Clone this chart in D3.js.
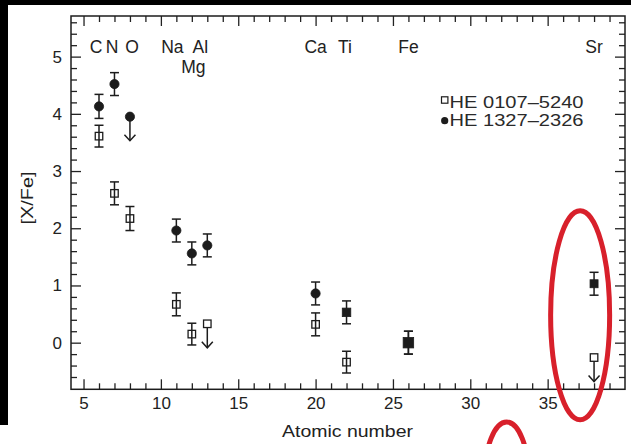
<!DOCTYPE html>
<html>
<head>
<meta charset="utf-8">
<script src="https://cdn.jsdelivr.net/npm/d3@7/dist/d3.min.js"></script>
<style>
  body { margin: 0; background: #fff; }
  svg { display: block; font-family: "Liberation Sans", Arial, Helvetica, sans-serif; }
  .axis text { font-size: 17px; fill: #222; }
  .axis line { stroke: #222; stroke-width: 1.3; }
</style>
</head>
<body>
<div id="chart"><svg></svg></div>
<script>
// elements along the x axis
var elements = ["C", "N", "O", "Na", "Mg", "Al", "Ca", "Ti", "Fe", "Sr"];
var atomicNumbers = [6, 7, 8, 11, 12, 13, 20, 22, 26, 38];
var labelRow = [0, 0, 0, 0, 1, 0, 0, 0, 0, 0];

// HE 0107-5240 (open squares)
var he0107Values = [3.61, 2.61, 2.17, 0.67, 0.15, 0.33, 0.32, -0.34, 0.0, -0.26];
var he0107Errors = [0.19, 0.20, 0.21, 0.20, 0.19, 0, 0.20, 0.19, 0.20, 0];
var he0107Limits = [false, false, false, false, false, true, false, false, false, true];

// HE 1327-2326 (filled symbols)
var he1327Values = [4.13, 4.52, 3.95, 1.96, 1.56, 1.70, 0.86, 0.53, 0.0, 1.03];
var he1327Errors = [0.21, 0.20, 0, 0.20, 0.20, 0.20, 0.20, 0.20, 0.20, 0.20];
var he1327Limits = [false, false, true, false, false, false, false, false, false, false];
var he1327Shapes = ["circle", "circle", "circle", "circle", "circle", "circle", "circle", "square", "square", "square"];

var seriesNames = ["HE 0107\u20135240", "HE 1327\u20132326"];

var xTickLabels = [5, 10, 15, 20, 25, 30, 35];
var yTickLabels = [0, 1, 2, 3, 4, 5];

var visualisation = function(d3) {

    var width = 631;
    var height = 444;
    var ink = "#1c1c1c";

    var x = d3.scaleLinear().domain([4.19, 40.0]).range([71, 625]);
    var y = d3.scaleLinear().domain([-0.815, 5.71]).range([389.3, 16]);

    // small nudges so the element names sit like in the figure
    var labelDx = { C: -3, N: -2.5, O: 2, Na: -4, Mg: 1.5, Al: -7, Ti: -1.5 };
    var markerSize = { Fe: 10.5, Ti: 8.5, Sr: 8 };

    function initMainCanvas() {
        var svg = d3.select("#chart svg");
        svg.attr("width", width)
            .attr("height", height)
            .attr("class", "canvas");
        svg.append("rect").attr("width", width).attr("height", height).attr("fill", "#fff");
        // dark scan border of the original
        svg.append("rect").attr("x", 0).attr("y", 0).attr("width", width).attr("height", 5).attr("fill", "#000");
        svg.append("rect").attr("x", 0).attr("y", 0).attr("width", 8).attr("height", 425).attr("fill", "#000");
        svg.append("g").attr("class", "plot");
    }

    function drawAxes(svg) {
        var x0 = x.range()[0], x1 = x.range()[1];
        var y0 = y.range()[0], y1 = y.range()[1];

        var xMinor = d3.range(5, 40).filter(function(v) { return v % 5 !== 0; });
        var yMinor = d3.range(-3, 29).map(function(k) { return k * 0.2; })
            .filter(function(v) { return Math.abs(v - Math.round(v)) > 0.01; });

        function addAxis(axis, tx, ty) {
            var g = svg.append("g")
                .attr("class", "axis")
                .attr("transform", "translate(" + tx + "," + ty + ")")
                .call(axis);
            g.select(".domain").remove();
            return g;
        }

        var fmt = d3.format("d");

        addAxis(d3.axisBottom(x).tickValues(xTickLabels).tickSize(-10).tickPadding(8).tickFormat(fmt), 0, y0);
        addAxis(d3.axisBottom(x).tickValues(xMinor).tickSize(-6).tickFormat(""), 0, y0);
        addAxis(d3.axisTop(x).tickValues(xTickLabels).tickSize(-10).tickFormat(""), 0, y1);
        addAxis(d3.axisTop(x).tickValues(xMinor).tickSize(-6).tickFormat(""), 0, y1);

        addAxis(d3.axisLeft(y).tickValues(yTickLabels).tickSize(-10).tickPadding(9).tickFormat(fmt), x0, 0);
        addAxis(d3.axisLeft(y).tickValues(yMinor).tickSize(-6).tickFormat(""), x0, 0);
        addAxis(d3.axisRight(y).tickValues(yTickLabels).tickSize(-10).tickFormat(""), x1, 0);
        addAxis(d3.axisRight(y).tickValues(yMinor).tickSize(-6).tickFormat(""), x1, 0);

        svg.append("rect")
            .attr("x", x0).attr("y", y1)
            .attr("width", x1 - x0).attr("height", y0 - y1)
            .attr("fill", "none")
            .attr("stroke", ink)
            .attr("stroke-width", 1.5);

        svg.append("text")
            .attr("x", 347.5).attr("y", 437)
            .attr("text-anchor", "middle")
            .attr("font-size", 17)
            .attr("fill", "#222")
            .attr("textLength", 131)
            .attr("lengthAdjust", "spacingAndGlyphs")
            .text("Atomic number");

        svg.append("text")
            .attr("transform", "translate(33,198) rotate(-90)")
            .attr("text-anchor", "middle")
            .attr("font-size", 16)
            .attr("fill", "#222")
            .attr("textLength", 53)
            .attr("lengthAdjust", "spacingAndGlyphs")
            .text("[X/Fe]");
    }

    function drawElementLabels(svg) {
        svg.selectAll(".element-label")
            .data(elements)
            .enter()
            .append("text")
            .attr("class", "element-label")
            .attr("x", function(d, i) { return x(atomicNumbers[i]) + (labelDx[d] || 0); })
            .attr("y", function(d, i) { return labelRow[i] === 0 ? 53.3 : 73.3; })
            .attr("text-anchor", "middle")
            .attr("font-size", 17.5)
            .attr("fill", "#222")
            .text(function(d) { return d; });
    }

    function drawSeries(svg, values, errors, limits, shapeOf, filled, name) {
        var pts = values.map(function(v, i) {
            return {
                el: elements[i],
                cx: x(atomicNumbers[i]),
                v: v,
                e: errors[i],
                limit: limits[i],
                shape: shapeOf(i)
            };
        });

        var g = svg.append("g").attr("class", name);

        // error bars
        var bars = g.selectAll(".err")
            .data(pts.filter(function(d) { return !d.limit && d.e > 0; }))
            .enter()
            .append("g")
            .attr("class", "err")
            .attr("stroke", ink)
            .attr("stroke-width", 1.5);
        bars.append("line")
            .attr("x1", function(d) { return d.cx; })
            .attr("x2", function(d) { return d.cx; })
            .attr("y1", function(d) { return y(d.v - d.e); })
            .attr("y2", function(d) { return y(d.v + d.e); });
        [-1, 1].forEach(function(s) {
            bars.append("line")
                .attr("x1", function(d) { return d.cx - 4.5; })
                .attr("x2", function(d) { return d.cx + 4.5; })
                .attr("y1", function(d) { return y(d.v + s * d.e); })
                .attr("y2", function(d) { return y(d.v + s * d.e); });
        });

        // upper limit arrows
        var arrows = g.selectAll(".limit")
            .data(pts.filter(function(d) { return d.limit; }))
            .enter()
            .append("g")
            .attr("class", "limit")
            .attr("stroke", ink)
            .attr("stroke-width", 1.5)
            .attr("fill", "none");
        arrows.append("line")
            .attr("x1", function(d) { return d.cx; })
            .attr("x2", function(d) { return d.cx; })
            .attr("y1", function(d) { return y(d.v) + 3.5; })
            .attr("y2", function(d) { return y(d.v) + 24; });
        arrows.append("polyline")
            .attr("points", function(d) {
                var t = y(d.v) + 24;
                return (d.cx - 5.5) + "," + (t - 6) + " " + d.cx + "," + t + " " + (d.cx + 5.5) + "," + (t - 6);
            });

        // markers
        g.selectAll(".mark")
            .data(pts)
            .enter()
            .append(function(d) {
                return document.createElementNS("http://www.w3.org/2000/svg", d.shape === "circle" ? "circle" : "rect");
            })
            .attr("class", "mark")
            .each(function(d) {
                var m = d3.select(this);
                if (d.shape === "circle") {
                    m.attr("cx", d.cx).attr("cy", y(d.v)).attr("r", 4.6);
                } else {
                    var s = filled ? (markerSize[d.el] || 8.5) : 7.5;
                    m.attr("x", d.cx - s / 2).attr("y", y(d.v) - s / 2)
                        .attr("width", s).attr("height", s);
                }
            })
            .attr("fill", filled ? ink : (function(d) { return d.limit ? "#fff" : "none"; }))
            .attr("stroke", ink)
            .attr("stroke-width", filled ? 0.8 : 1.3);
    }

    function drawLegend(svg) {
        var lg = svg.append("g").attr("class", "legend");
        lg.append("rect")
            .attr("x", 441.5).attr("y", 96.8)
            .attr("width", 6.4).attr("height", 6.4)
            .attr("fill", "none").attr("stroke", ink).attr("stroke-width", 1.2);
        lg.append("circle")
            .attr("cx", 444.7).attr("cy", 120.7).attr("r", 3.6)
            .attr("fill", ink);
        lg.selectAll(".legend-text")
            .data(seriesNames)
            .enter()
            .append("text")
            .attr("class", "legend-text")
            .attr("x", 449.5)
            .attr("y", function(d, i) { return 108.3 + i * 17.6; })
            .attr("font-size", 16)
            .attr("fill", "#2a2a2a")
            .attr("textLength", 134)
            .attr("lengthAdjust", "spacingAndGlyphs")
            .text(function(d) { return d; });
    }

    function drawMarkup(svg) {
        // red hand-drawn circles over the figure
        var red = "#d8202b";
        svg.append("ellipse")
            .attr("cx", x(37.1)).attr("cy", y(0.48))
            .attr("rx", 29.5).attr("ry", 104.5)
            .attr("fill", "none").attr("stroke", red).attr("stroke-width", 5);
        svg.append("ellipse")
            .attr("cx", x(32.35)).attr("cy", 478)
            .attr("rx", 22).attr("ry", 56)
            .attr("fill", "none").attr("stroke", red).attr("stroke-width", 5);
    }

    function draw() {
        var svg = d3.select("#chart svg g.plot");
        drawAxes(svg);
        drawElementLabels(svg);
        drawSeries(svg, he0107Values, he0107Errors, he0107Limits,
            function() { return "square"; }, false, "he0107");
        drawSeries(svg, he1327Values, he1327Errors, he1327Limits,
            function(i) { return he1327Shapes[i]; }, true, "he1327");
        drawLegend(svg);
        drawMarkup(svg);
    }

    return {
        show: function() {
            initMainCanvas();
            draw();
        }
    };
}(d3);

visualisation.show();
</script>
</body>
</html>
